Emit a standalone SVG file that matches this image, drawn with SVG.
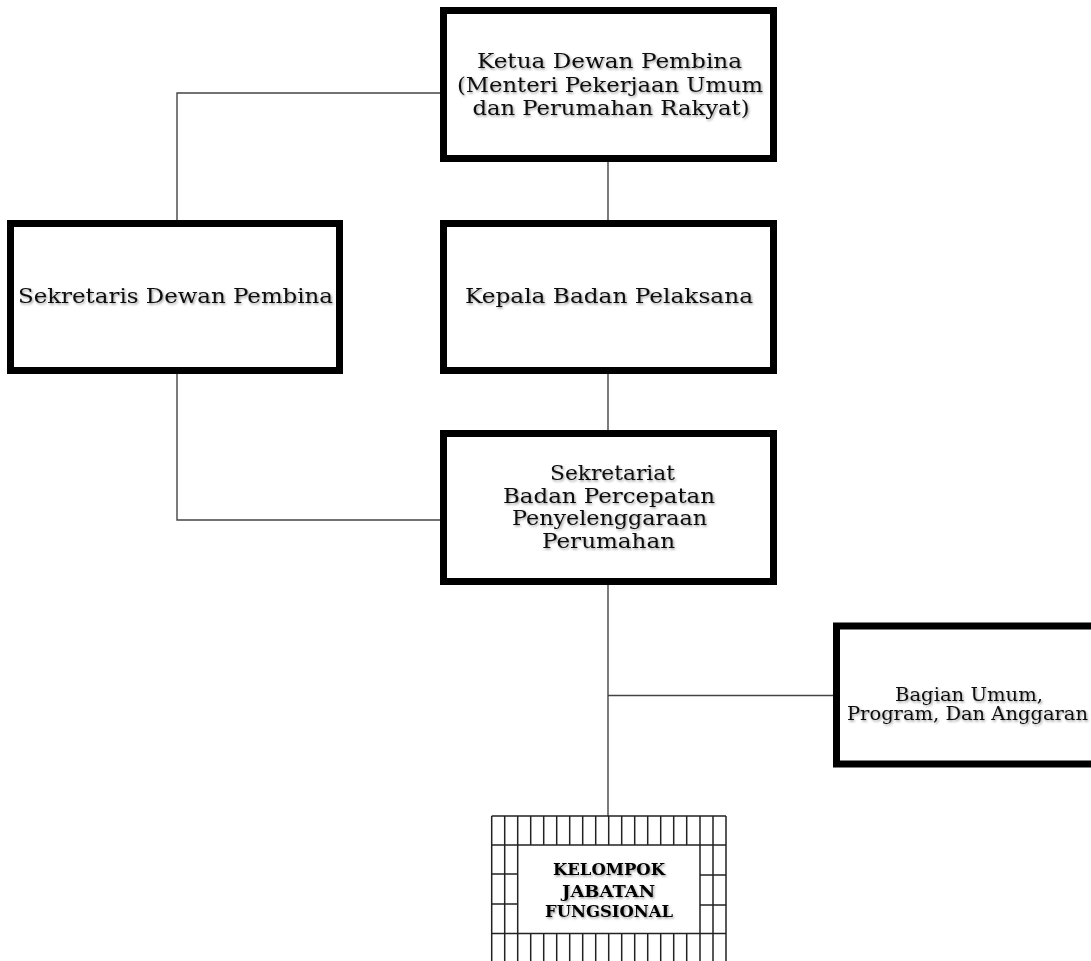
<svg xmlns="http://www.w3.org/2000/svg" width="1091" height="961" viewBox="0 0 1091 961">
<defs>
<filter id="sh" x="-10%" y="-30%" width="120%" height="160%">
<feDropShadow dx="1.2" dy="1.5" stdDeviation="1" flood-color="#000" flood-opacity="0.4"/>
</filter>
<style>
.box{fill:#fff;stroke:#000;stroke-width:7}
.t{font-family:"DejaVu Serif","Liberation Serif",serif;font-size:21px;fill:#111;text-anchor:middle;filter:url(#sh)}
.t2{font-family:"DejaVu Serif","Liberation Serif",serif;font-size:18.5px;fill:#111;text-anchor:middle;filter:url(#sh)}
.tb{font-family:"DejaVu Serif","Liberation Serif",serif;font-size:16.5px;font-weight:bold;fill:#000;text-anchor:middle;filter:url(#sh)}
.c{fill:none;stroke:#444;stroke-width:1.4}
.g{fill:none;stroke:#222;stroke-width:1.5}
</style>
</defs>
<rect width="1091" height="961" fill="#fff"/>
<g id="connectors">
<polyline class="c" points="440,93 177,93 177,220"/>
<line class="c" x1="608" y1="162" x2="608" y2="220"/>
<line class="c" x1="608" y1="374" x2="608" y2="430"/>
<polyline class="c" points="177,374 177,520 440,520"/>
<line class="c" x1="608" y1="585" x2="608" y2="816"/>
<line class="c" x1="608" y1="695.5" x2="833" y2="695.5"/>
</g>
<g id="ketua">
<rect class="box" x="443.5" y="10.5" width="330" height="148"/>
<text class="t" x="609.5" y="68" textLength="265" lengthAdjust="spacingAndGlyphs">Ketua Dewan Pembina</text>
<text class="t" x="610" y="92" textLength="306" lengthAdjust="spacingAndGlyphs">(Menteri Pekerjaan Umum</text>
<text class="t" x="611" y="115" textLength="277" lengthAdjust="spacingAndGlyphs">dan Perumahan Rakyat)</text>
</g>
<g id="sekretaris-dewan">
<rect class="box" x="10.5" y="223.5" width="329" height="147"/>
<text class="t" x="175.5" y="303" textLength="315" lengthAdjust="spacingAndGlyphs">Sekretaris Dewan Pembina</text>
</g>
<g id="kepala">
<rect class="box" x="443.5" y="223.5" width="330" height="147"/>
<text class="t" x="609" y="303" textLength="288" lengthAdjust="spacingAndGlyphs">Kepala Badan Pelaksana</text>
</g>
<g id="sekretariat">
<rect class="box" x="443.5" y="433.5" width="330" height="148"/>
<text class="t" x="612.5" y="480" textLength="125" lengthAdjust="spacingAndGlyphs">Sekretariat</text>
<text class="t" x="609" y="502.5" textLength="212" lengthAdjust="spacingAndGlyphs">Badan Percepatan</text>
<text class="t" x="609.5" y="525" textLength="195" lengthAdjust="spacingAndGlyphs">Penyelenggaraan</text>
<text class="t" x="608.5" y="548" textLength="133" lengthAdjust="spacingAndGlyphs">Perumahan</text>
</g>
<g id="bagian">
<rect class="box" x="836.5" y="626" width="275" height="138"/>
<text class="t2" x="969" y="700.5" textLength="148" lengthAdjust="spacingAndGlyphs">Bagian Umum,</text>
<text class="t2" x="967.5" y="720" textLength="241" lengthAdjust="spacingAndGlyphs">Program, Dan Anggaran</text>
</g>
<g id="kelompok">
<rect x="491.7" y="816" width="234.3" height="150" fill="#fff" stroke="none"/>
<path class="g" d="M491.7,816H726M491.7,845H726M491.7,933.5H726M491.7,816V961M726,816V961M504.7,816V961M517.7,816V961M700,816V961M713,816V961M491.7,874H517.7M491.7,904H517.7M700,875H726M700,905H726M530.7,816V845M543.7,816V845M556.7,816V845M569.7,816V845M582.7,816V845M595.7,816V845M608.7,816V845M621.7,816V845M634.7,816V845M647.7,816V845M660.7,816V845M673.7,816V845M686.7,816V845M530.7,933.5V961M543.7,933.5V961M556.7,933.5V961M569.7,933.5V961M582.7,933.5V961M595.7,933.5V961M608.7,933.5V961M621.7,933.5V961M634.7,933.5V961M647.7,933.5V961M660.7,933.5V961M673.7,933.5V961M686.7,933.5V961"/>
<text class="tb" x="609" y="875" textLength="112" lengthAdjust="spacingAndGlyphs">KELOMPOK</text>
<text class="tb" x="608.5" y="896.5" textLength="93" lengthAdjust="spacingAndGlyphs">JABATAN</text>
<text class="tb" x="609" y="917" textLength="128" lengthAdjust="spacingAndGlyphs">FUNGSIONAL</text>
</g>
</svg>
